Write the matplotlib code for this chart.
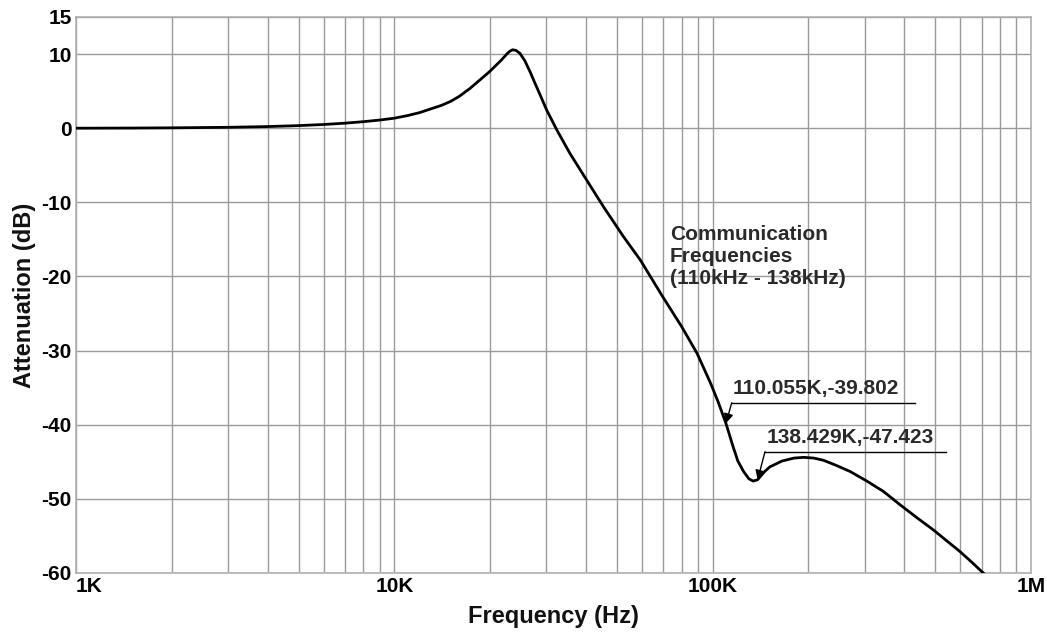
import matplotlib
matplotlib.use("Agg")
import matplotlib.pyplot as plt
from matplotlib.ticker import FixedLocator, LogLocator, NullFormatter

plt.rcParams['font.family'] = ['Liberation Sans', 'DejaVu Sans']
plt.rcParams['font.weight'] = 'bold'

# Frequency response (Hz, dB)
freq_hz = [1e3, 1.5e3, 2e3, 3e3, 4e3, 5e3, 6e3, 7e3, 8e3, 9e3, 10e3, 11e3, 12e3, 12.9e3,
           14e3, 15e3, 16e3, 17.3e3, 18.5e3, 19.9e3, 21.7e3, 22.5e3, 23e3, 23.5e3, 24.1e3,
           24.8e3, 25.7e3, 26.7e3, 27.7e3, 28.7e3, 30.1e3, 32.4e3, 35.6e3, 40.2e3, 45.4e3,
           52.4e3, 59.3e3, 69.6e3, 80e3, 89.4e3, 98.5e3, 104e3, 110.055e3, 116e3, 120e3,
           125e3, 130e3, 134e3, 138.429e3, 145e3, 151e3, 165e3, 180e3, 193e3, 208e3,
           223e3, 245e3, 270e3, 305e3, 344e3, 388e3, 440e3, 494e3, 545e3, 598e3, 650e3,
           708e3]
atten_db = [0.0, 0.02, 0.05, 0.12, 0.22, 0.35, 0.5, 0.68, 0.88, 1.1, 1.35, 1.7, 2.1, 2.55,
            3.05, 3.6, 4.3, 5.38, 6.45, 7.62, 9.2, 9.95, 10.35, 10.58, 10.5,
            10.1, 9.1, 7.6, 6.0, 4.5, 2.45, -0.24, -3.39, -7.0, -10.6,
            -14.6, -17.8, -22.7, -26.8, -30.4, -34.4, -36.9, -39.802, -43.0, -44.9,
            -46.3, -47.3, -47.6, -47.423, -46.4, -45.7, -44.9, -44.5, -44.4, -44.5,
            -44.8, -45.5, -46.3, -47.6, -49.0, -50.8, -52.6, -54.2, -55.7, -57.1, -58.5,
            -60.0]

marker_freq = [110.055e3, 138.429e3]
marker_db = [-39.802, -47.423]
marker_labels = ["110.055K,-39.802", "138.429K,-47.423"]

x_ticks = [1e3, 1e4, 1e5, 1e6]
x_tick_labels = ["1K", "10K", "100K", "1M"]
y_ticks = [15, 10, 0, -10, -20, -30, -40, -50, -60]

fig = plt.figure(figsize=(10.47, 6.33), dpi=100)
ax = fig.add_axes([76/1047, 1-573/633, (1031-76)/1047, (573-17)/633])

ax.set_xscale('log')
ax.set_xlim(1e3, 1e6)
ax.set_ylim(-60, 15)

ax.xaxis.set_major_locator(FixedLocator(x_ticks))
ax.xaxis.set_minor_locator(LogLocator(base=10, subs=range(2, 10), numticks=20))
ax.xaxis.set_minor_formatter(NullFormatter())
ax.set_xticks(x_ticks)
ax.set_xticklabels(x_tick_labels)
ax.set_yticks(y_ticks)
ax.set_yticklabels([str(v) for v in y_ticks])

grid_c = '#9a9a9a'
ax.grid(True, which='both', axis='x', color=grid_c, lw=1.0)
ax.grid(True, which='major', axis='y', color=grid_c, lw=1.0)
ax.tick_params(axis='both', which='both', length=0, labelsize=15, pad=3)
ax.tick_params(axis='x', pad=3)
for lab in ax.get_xticklabels():
    lab.set_fontweight('bold')
for lab in ax.get_yticklabels():
    lab.set_fontweight('bold')
ax.get_xticklabels()[0].set_horizontalalignment('left')
ax.get_xticklabels()[-1].set_horizontalalignment('center')
for s in ax.spines.values():
    s.set_color('#b0b0b0')
    s.set_linewidth(1.2)

ax.plot(freq_hz, atten_db, color='black', lw=2.0, zorder=5, solid_joinstyle='round')

ax.set_xlabel("Frequency (Hz)", fontsize=17, fontweight='bold', labelpad=6, color='#111')
ax.set_ylabel("Attenuation (dB)", fontsize=17, fontweight='bold', labelpad=4, color='#111')

# Annotations
text_pos = [(114.8e3, -37.03, 432e3), (146e3, -43.64, 541e3)]
for (fx, fy, lab, (tx, ty, tx2)) in zip(marker_freq, marker_db, marker_labels, text_pos):
    ax.annotate("", xy=(fx, fy), xytext=(tx, ty),
                arrowprops=dict(arrowstyle='-|>', color='black', lw=1.0,
                                mutation_scale=14, shrinkA=0, shrinkB=0), zorder=6)
    ax.plot([tx, tx2], [ty, ty], color='black', lw=1.0, zorder=6)
    ax.text(tx * 1.01, ty + 0.7, lab, fontsize=15, fontweight='bold', color='#2a2a2a',
            ha='left', va='bottom', zorder=7)

ax.text(0.622, 0.625, "Communication\nFrequencies\n(110kHz - 138kHz)", transform=ax.transAxes,
        fontsize=15, fontweight='bold', color='#2a2a2a', ha='left', va='top',
        linespacing=1.2)

fig.savefig("out.png", dpi=100)
